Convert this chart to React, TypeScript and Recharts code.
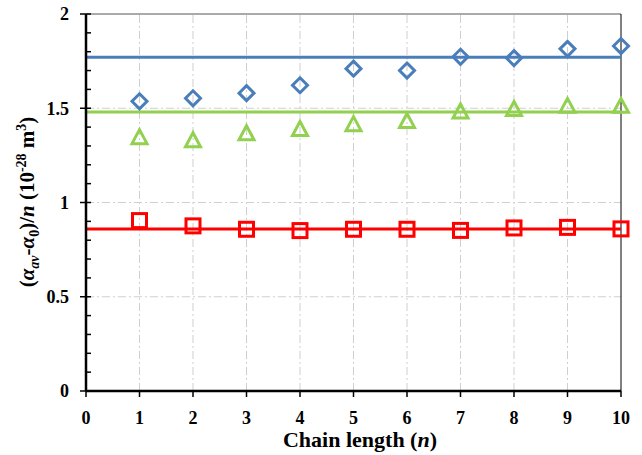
import React from "react";
import {
  ComposedChart,
  Scatter,
  XAxis,
  YAxis,
  ReferenceLine,
} from "recharts";

// chain length n
const chainLength = [1, 2, 3, 4, 5, 6, 7, 8, 9, 10];
// (a_av - a_0)/n, 10^-28 m^3
const blueDiamonds = [1.537, 1.553, 1.58, 1.622, 1.71, 1.7, 1.773, 1.766, 1.815, 1.83];
const greenTriangles = [1.344, 1.328, 1.365, 1.387, 1.413, 1.43, 1.48, 1.493, 1.51, 1.51];
const redSquares = [0.904, 0.876, 0.858, 0.851, 0.858, 0.858, 0.852, 0.865, 0.868, 0.86];
// fitted averages
const blueFit = 1.77;
const greenFit = 1.48;
const redFit = 0.86;

const xTicks = [0, 1, 2, 3, 4, 5, 6, 7, 8, 9, 10];
const yTicks = [0, 0.1, 0.2, 0.3, 0.4, 0.5, 0.6, 0.7, 0.8, 0.9, 1, 1.1, 1.2, 1.3, 1.4, 1.5, 1.6, 1.7, 1.8, 1.9, 2];
const gridY = [0.5, 1, 1.5];
const gridX = [1, 2, 3, 4, 5, 6, 7, 8, 9];

const BLUE = "#4A7EBB";
const GREEN = "#92D050";
const RED = "#FF0000";
const FONT = "'Liberation Serif', 'Times New Roman', serif";

const data = chainLength.map((n, i) => ({
  n,
  blue: blueDiamonds[i],
  green: greenTriangles[i],
  red: redSquares[i],
}));

const isMajor = (v: number) => Math.abs(v * 2 - Math.round(v * 2)) < 1e-6;

function YTick(props: any) {
  const { x, y, payload } = props;
  const v = payload.value as number;
  if (!isMajor(v)) {
    return <line x1={x} x2={x + 5} y1={y} y2={y} stroke="#000" strokeWidth={1.5} />;
  }
  return (
    <g>
      <line x1={x - 6} x2={x + 5} y1={y} y2={y} stroke="#000" strokeWidth={1.5} />
      <text x={x - 17} y={y} dy="0.35em" textAnchor="end" fontFamily={FONT} fontWeight="bold" fontSize={18} fill="#000">
        {String(v)}
      </text>
    </g>
  );
}

function XTick(props: any) {
  const { x, y, payload } = props;
  return (
    <g>
      <line x1={x} x2={x} y1={y} y2={y + 6} stroke="#000" strokeWidth={1.5} />
      <text x={x} y={y + 33} textAnchor="middle" fontFamily={FONT} fontWeight="bold" fontSize={18} fill="#000">
        {String(payload.value)}
      </text>
    </g>
  );
}

const Diamond = (p: any) => (
  <path
    d={`M${p.cx},${p.cy - 7.5} L${p.cx + 7.5},${p.cy} L${p.cx},${p.cy + 7.5} L${p.cx - 7.5},${p.cy} Z`}
    fill="none"
    stroke={BLUE}
    strokeWidth={3}
  />
);

const Triangle = (p: any) => (
  <path
    d={`M${p.cx},${p.cy - 8} L${p.cx + 7.5},${p.cy + 6} L${p.cx - 7.5},${p.cy + 6} Z`}
    fill="none"
    stroke={GREEN}
    strokeWidth={3}
    strokeLinejoin="miter"
  />
);

const Square = (p: any) => (
  <rect x={p.cx - 7} y={p.cy - 7} width={14} height={14} fill="none" stroke={RED} strokeWidth={3} />
);

export default function App() {
  return (
    <div style={{ position: "absolute", left: 0, top: 0, background: "#fff" }}>
      <ComposedChart
        width={642}
        height={455}
        data={data}
        margin={{ top: 14, right: 21, bottom: 34, left: 0 }}
      >
        {gridY.map((v) => (
          <ReferenceLine key={"gy" + v} y={v} stroke="#CFCFCF" strokeDasharray="8 3 2 3" />
        ))}
        {gridX.map((v) => (
          <ReferenceLine key={"gx" + v} x={v} stroke="#CFCFCF" strokeDasharray="8 3 2 3" />
        ))}
        <ReferenceLine y={2} stroke="#555" strokeWidth={1} />
        <ReferenceLine x={10} stroke="#000" strokeWidth={1} />

        <XAxis
          dataKey="n"
          type="number"
          domain={[0, 10]}
          ticks={xTicks}
          interval={0}
          height={30}
          tickSize={0}
          tickMargin={0}
          tickLine={false}
          axisLine={{ stroke: "#000", strokeWidth: 2.5 }}
          tick={<XTick />}
        />
        <YAxis
          type="number"
          domain={[0, 2]}
          ticks={yTicks}
          interval={0}
          width={86}
          tickSize={0}
          tickMargin={0}
          tickLine={false}
          axisLine={{ stroke: "#000", strokeWidth: 2.5 }}
          tick={<YTick />}
        />

        <ReferenceLine y={blueFit} stroke={BLUE} strokeWidth={3} />
        <ReferenceLine y={greenFit} stroke={GREEN} strokeWidth={3} />
        <ReferenceLine y={redFit} stroke={RED} strokeWidth={3} />

        <Scatter dataKey="blue" shape={Diamond} isAnimationActive={false} />
        <Scatter dataKey="green" shape={Triangle} isAnimationActive={false} />
        <Scatter dataKey="red" shape={Square} isAnimationActive={false} />

        <text x={360} y={447} textAnchor="middle" fontFamily={FONT} fontWeight="bold" fontSize={22} fill="#000">
          Chain length (<tspan fontStyle="italic">n</tspan>)
        </text>
        <text
          x={34}
          y={202}
          transform="rotate(-90, 34, 202)"
          textAnchor="middle"
          fontFamily={FONT}
          fontWeight="bold"
          fontSize={21}
          fill="#000"
        >
          (<tspan fontStyle="italic">α</tspan>
          <tspan fontStyle="italic" fontSize={14} dy={5}>av</tspan>
          <tspan dy={-5}>-</tspan>
          <tspan fontStyle="italic">α</tspan>
          <tspan fontSize={14} dy={5}>0</tspan>
          <tspan dy={-5}>)/</tspan>
          <tspan fontStyle="italic">n</tspan>
          <tspan> (10</tspan>
          <tspan fontSize={14} dy={-8}>-28</tspan>
          <tspan dy={8}> m</tspan>
          <tspan fontSize={14} dy={-8}>3</tspan>
          <tspan dy={8}>)</tspan>
        </text>
      </ComposedChart>
    </div>
  );
}
